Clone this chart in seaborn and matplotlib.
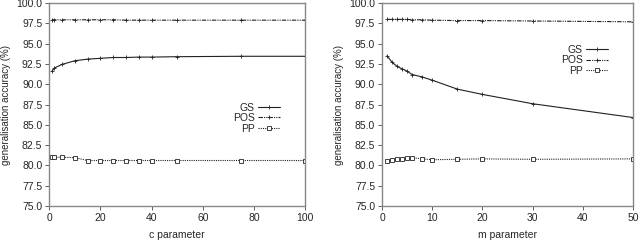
import numpy as np
import pandas as pd
import seaborn as sns
import matplotlib.pyplot as plt
from matplotlib.ticker import FormatStrFormatter, MultipleLocator

# data
c_vals = [1, 2, 5, 10, 15, 20, 25, 30, 35, 40, 50, 75, 100]
c_gs = [91.6, 92.0, 92.45, 92.9, 93.1, 93.2, 93.3, 93.3, 93.35, 93.35, 93.4, 93.45, 93.45]
c_pos = [97.95, 97.95, 97.95, 97.95, 97.95, 97.95, 97.95, 97.9, 97.9, 97.9, 97.9, 97.9, 97.9]
c_pp = [81.05, 81.0, 81.0, 80.95, 80.6, 80.6, 80.6, 80.6, 80.6, 80.6, 80.6, 80.6, 80.6]

m_vals = [1, 2, 3, 4, 5, 6, 8, 10, 15, 20, 30, 50]
m_gs = [93.5, 92.7, 92.2, 91.9, 91.6, 91.2, 90.9, 90.5, 89.4, 88.75, 87.6, 85.9]
m_pos = [98.0, 98.0, 98.0, 98.0, 98.0, 97.95, 97.95, 97.9, 97.85, 97.85, 97.8, 97.7]
m_pp = [80.6, 80.7, 80.8, 80.75, 80.85, 80.95, 80.8, 80.7, 80.75, 80.8, 80.75, 80.8]

series = ["GS", "POS", "PP"]

sns.set_style("ticks")
plt.rcParams['font.family'] = ['Liberation Sans', 'DejaVu Sans']
plt.rcParams['font.size'] = 7

fig = plt.figure(figsize=(6.4, 2.42), dpi=100)
ax1 = fig.add_axes([0.077, 0.149, 0.4, 0.838])
ax2 = fig.add_axes([0.597, 0.149, 0.392, 0.838])

ink = "#222222"
styles = {
    "GS": dict(linestyle="-", marker="+", markersize=3, markerfacecolor=ink),
    "POS": dict(linestyle=(0, (4, 1, 1, 1, 1, 1)), marker="+", markersize=3.5, markerfacecolor=ink),
    "PP": dict(linestyle=(0, (1, 1)), marker="s", markersize=2.2, markerfacecolor="white"),
}

def draw(ax, x, ys, xlabel, xmax, xstep, legend_anchor):
    df = pd.DataFrame({"x": x})
    for name, y in zip(series, ys):
        df[name] = y
    long = df.melt(id_vars="x", var_name="series", value_name="acc")
    for name in series:
        sub = long[long["series"] == name]
        sns.lineplot(data=sub, x="x", y="acc", ax=ax, color=ink, linewidth=0.8,
                     markeredgewidth=0.6, markeredgecolor=ink, label=name, **styles[name])
    ax.set_xlim(0, xmax)
    ax.set_ylim(75, 100)
    ax.xaxis.set_major_locator(MultipleLocator(xstep))
    ax.yaxis.set_major_locator(MultipleLocator(2.5))
    ax.yaxis.set_major_formatter(FormatStrFormatter("%.1f"))
    ax.set_xlabel(xlabel, fontsize=7.5, labelpad=5)
    ax.set_ylabel("generalisation accuracy (%)", fontsize=7, labelpad=4)
    ax.tick_params(labelsize=7.5, length=3, width=0.6, color="#444444", pad=2)
    for sp in ax.spines.values():
        sp.set_visible(True)
        sp.set_color("#888888")
        sp.set_linewidth(1.0)
    ax.legend(loc="upper right", bbox_to_anchor=legend_anchor, frameon=False,
              markerfirst=False, fontsize=7.5, handlelength=2.1, handletextpad=0.3,
              labelspacing=0.05, borderpad=0, borderaxespad=0)

draw(ax1, c_vals, [c_gs, c_pos, c_pp], "c parameter", 100, 20, (0.9, 0.51))
draw(ax2, m_vals, [m_gs, m_pos, m_pp], "m parameter", 50, 10, (0.9, 0.795))

fig.savefig("out.png", dpi=100)
